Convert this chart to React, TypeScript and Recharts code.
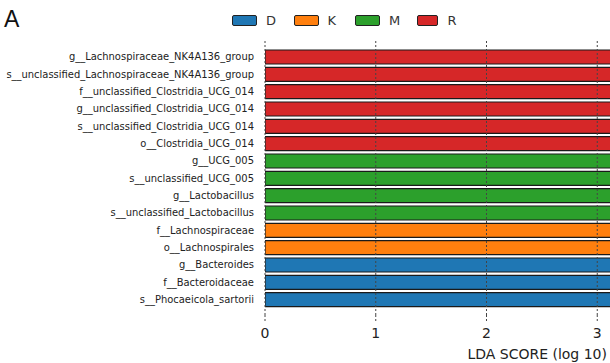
import { BarChart, Bar, XAxis, YAxis, Cell, ReferenceLine } from 'recharts';

const features = [
  'g__Lachnospiraceae_NK4A136_group',
  's__unclassified_Lachnospiraceae_NK4A136_group',
  'f__unclassified_Clostridia_UCG_014',
  'g__unclassified_Clostridia_UCG_014',
  's__unclassified_Clostridia_UCG_014',
  'o__Clostridia_UCG_014',
  'g__UCG_005',
  's__unclassified_UCG_005',
  'g__Lactobacillus',
  's__unclassified_Lactobacillus',
  'f__Lachnospiraceae',
  'o__Lachnospirales',
  'g__Bacteroides',
  'f__Bacteroidaceae',
  's__Phocaeicola_sartorii',
];
const featureGroups = ['R', 'R', 'R', 'R', 'R', 'R', 'M', 'M', 'M', 'M', 'K', 'K', 'D', 'D', 'D'];
// bars run off the right edge of the picture, so these are only rough guesses
const ldaScores = [4.3, 4.3, 4.0, 4.0, 4.0, 4.0, 4.2, 4.2, 4.1, 4.1, 3.9, 3.9, 4.4, 4.4, 4.0];

const legendGroups = ['D', 'K', 'M', 'R'];
const groupColors = ['#1f77b4', '#ff7f0e', '#2ca02c', '#d62728'];
const xTicks = [0, 1, 2, 3];

const colorOf = (g: string) => groupColors[legendGroups.indexOf(g)];

const data = features.map((name, i) => ({ name, group: featureGroups[i], score: ldaScores[i] }));

const font = '"DejaVu Sans", sans-serif';

export default function App() {
  return (
    <div style={{ position: 'absolute', left: 0, top: 0, width: 610, height: 363, background: '#fff', fontFamily: font }}>
      <div style={{ position: 'absolute', left: 4, top: 6, fontSize: 23, fontFamily: '"Liberation Sans", Arial, sans-serif', color: '#111' }}>A</div>

      {/* legend */}
      <div style={{ position: 'absolute', left: 232, top: 13, display: 'flex', alignItems: 'center' }}>
        {legendGroups.map((g, i) => (
          <div key={g} style={{ display: 'flex', alignItems: 'center', width: i < 3 ? 61.5 : 40 }}>
            <div style={{ width: 23, height: 9, background: groupColors[i], border: '1px solid #222', borderRadius: 2 }} />
            <span style={{ marginLeft: 9, fontSize: 13, color: '#333' }}>{g}</span>
          </div>
        ))}
      </div>

      <BarChart
        width={610}
        height={363}
        data={data}
        layout="vertical"
        margin={{ top: 41, right: 0, bottom: 0, left: 0 }}
        barSize={14}
        style={{ position: 'absolute', left: 0, top: 0 }}
      >
        <XAxis
          type="number"
          domain={[0, 3.115]}
          ticks={xTicks}
          allowDataOverflow
          axisLine={false}
          tickLine={{ stroke: '#444', strokeDasharray: '2 2' }}
          tickSize={6}
          tickMargin={7}
          height={48}
          tick={{ fontSize: 14, fill: '#222', fontFamily: font }}
        />
        <YAxis
          type="category"
          dataKey="name"
          width={265}
          axisLine={false}
          tickLine={false}
          tickMargin={5}
          padding={{ top: 7, bottom: 7 }}
          interval={0}
          tick={{ fontSize: 9.95, fill: '#222', fontFamily: font }}
        />
        <Bar dataKey="score" stroke="#1a1a1a" strokeWidth={1.2} isAnimationActive={false}>
          {data.map((d) => (
            <Cell key={d.name} fill={colorOf(d.group)} />
          ))}
        </Bar>
        {xTicks.map((t) => (
          <ReferenceLine key={t} x={t} stroke="#444" strokeDasharray="2 2" strokeWidth={1} />
        ))}
      </BarChart>

      <div style={{ position: 'absolute', right: 3, top: 346, fontSize: 14, color: '#222' }}>LDA SCORE (log 10)</div>
    </div>
  );
}
